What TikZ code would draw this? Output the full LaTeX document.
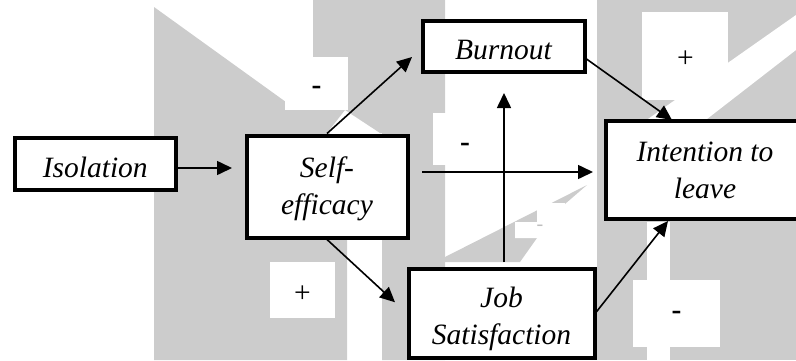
\documentclass[tikz,border=0pt]{standalone}
\usepackage{fontspec}
\setmainfont{Liberation Serif}
\usetikzlibrary{arrows.meta}
\definecolor{wmgray}{RGB}{204,204,204}
\definecolor{faintmark}{RGB}{190,190,190}
\begin{document}
\begin{tikzpicture}[x=1pt,y=-1pt,
  box/.style={draw=black, line width=4pt, fill=white, inner sep=0pt,
    font=\fontsize{29.5}{37}\selectfont\itshape, align=center},
  onebox/.style={box, text height=27pt, text depth=0pt},
  arr/.style={line width=1.6pt, -{Triangle[length=15pt,width=14pt]}},
  sign/.style={inner sep=0pt, font=\fontsize{29.5}{37}\selectfont},
  minus/.style={sign, font=\fontsize{29.5}{37}\selectfont\bfseries},
]
\clip (0,0) rectangle (796,360);

% background pattern
\fill[wmgray] (154,7) -- (347,146) -- (347,360) -- (154,360) -- cycle;
\fill[wmgray] (313,0) -- (445,0) -- (445,360) -- (382,360) -- (382,133)
  -- (380,133) -- (345,110) -- (327,133) -- (285,110) -- (285,57)
  -- (313,57) -- cycle;
\fill[wmgray] (445,257) -- (587,185) -- (565,204) -- (537,238) -- (520,262)
  -- (445,262) -- cycle;
\fill[wmgray] (597,0) rectangle (796,360);

% white panels behind the signs and the light bands
\fill[white] (285,57) rectangle (348,110);
\fill[white] (433,113) rectangle (497,165);
\fill[white] (642,12) rectangle (728,100);
\fill[white] (270,262) rectangle (335,318);
\fill[white] (633,280) rectangle (720,347);
\fill[white] (796,15) -- (796,50) -- (707,119) -- (648,119) -- cycle;
\fill[white] (647,222) rectangle (670,360);
\fill[white] (515,222) -- (537,222) -- (537,203) -- (565,203) -- (565,238)
  -- (515,238) -- cycle;
\node[sign, text=faintmark, font=\fontsize{20}{24}\selectfont] (faint) at (540,228) {-};

% boxes
\node[onebox, minimum width=160.5pt, minimum height=52pt] (iso) at (95.25,163.5) {Isolation};
\node[box, minimum width=161pt, minimum height=102pt] (self) at (327,186.5) {\rule{0pt}{26pt}Self-\\efficacy};
\node[onebox, minimum width=162pt, minimum height=51pt] (burn) at (503.5,46) {Burnout};
\node[box, minimum width=199pt, minimum height=98pt] (intent) at (705,170) {Intention to\\leave};
\node[box, minimum width=186pt, minimum height=88.5pt] (job) at (501.5,313.25) {\rule{0pt}{32pt}Job\\Satisfaction};

% connectors
\draw[arr] ([yshift=-4.5pt]iso.east) -- ([xshift=-12.5pt,yshift=18.5pt]self.west);
\draw[arr] (self.north) -- ([xshift=-8.5pt,yshift=-11pt]burn.west);
\draw[arr] (self.south) -- ([xshift=-11.5pt,yshift=11pt]job.west);
\draw[arr] ([xshift=12.5pt,yshift=14.5pt]self.east) -- ([xshift=-10.5pt,yshift=-2pt]intent.west);
\draw[arr] ([xshift=2.5pt,yshift=5pt]job.north) -- ([xshift=0.5pt,yshift=-19.5pt]burn.south);
\draw[arr] ([yshift=-13pt]burn.east) -- ([xshift=-33pt,yshift=-1pt]intent.north);
\draw[arr] ([yshift=1.5pt]job.east) -- ([xshift=-37pt]intent.south);

% signs
\node[minus] (s1) at (316.5,90) {-};
\node[minus] (s2) at (465,147) {-};
\node[sign] (s3) at (685.5,59) {+};
\node[sign] (s4) at (302.5,294.5) {+};
\node[minus] (s5) at (676.5,315) {-};
\end{tikzpicture}
\end{document}
